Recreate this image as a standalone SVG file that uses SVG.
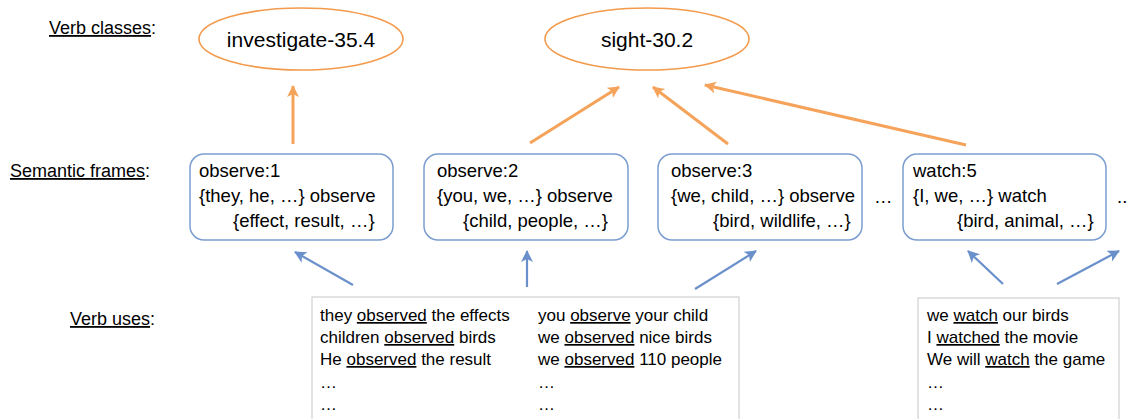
<svg xmlns="http://www.w3.org/2000/svg" width="1129" height="419" viewBox="0 0 1129 419">
<style>
  text { font-family: "Liberation Sans", Arial, sans-serif; fill: #000; }
  .lbl { font-size: 18px; }
  .cls { font-size: 21px; }
  .fr { font-size: 18.5px; }
  .use { font-size: 17px; }
  .u { text-decoration: underline; }
  .ell { fill: #fff; stroke: #F39A4C; stroke-width: 1.6; }
  .frame { fill: #fff; stroke: #7B9DD0; stroke-width: 1.5; }
  .usebox { fill: #fff; stroke: #C8C8C8; stroke-width: 1; }
  .oa { stroke: #F5A35A; stroke-width: 3; fill: none; marker-end: url(#ho); }
  .ba { stroke: #6A90CB; stroke-width: 2.2; fill: none; marker-end: url(#hb); }
</style>
<defs>
  <marker id="ho" markerUnits="userSpaceOnUse" markerWidth="14" markerHeight="14" refX="11" refY="6" orient="auto">
    <path d="M0,0 L12,6 L0,12 L3,6 Z" fill="#F5A35A"/>
  </marker>
  <marker id="hb" markerUnits="userSpaceOnUse" markerWidth="14" markerHeight="14" refX="11" refY="6" orient="auto">
    <path d="M0,0 L12,6 L0,12 L3,6 Z" fill="#6A90CB"/>
  </marker>
</defs>

<g id="row-labels">
  <text class="lbl" x="49" y="34"><tspan class="u">Verb classes</tspan>:</text>
  <text class="lbl" x="10" y="177"><tspan class="u">Semantic frames</tspan>:</text>
  <text class="lbl" x="70" y="325"><tspan class="u">Verb uses</tspan>:</text>
</g>

<g id="connectors">
  <line class="oa" x1="293" y1="144" x2="293" y2="86"/>
  <line class="oa" x1="530" y1="143" x2="619" y2="87"/>
  <line class="oa" x1="728" y1="144" x2="653" y2="87"/>
  <line class="oa" x1="966" y1="145" x2="705" y2="85"/>
  <line class="ba" x1="353" y1="285" x2="295" y2="252"/>
  <line class="ba" x1="527" y1="287" x2="527" y2="251"/>
  <line class="ba" x1="695" y1="289" x2="756" y2="251"/>
  <line class="ba" x1="1003" y1="284" x2="968" y2="251"/>
  <line class="ba" x1="1057" y1="284" x2="1119" y2="251"/>
</g>

<g id="class-investigate">
  <ellipse class="ell" cx="301" cy="39" rx="102" ry="31"/>
  <text class="cls" x="301" y="47" text-anchor="middle">investigate-35.4</text>
</g>
<g id="class-sight">
  <ellipse class="ell" cx="647" cy="39" rx="102" ry="31"/>
  <text class="cls" x="647" y="47" text-anchor="middle">sight-30.2</text>
</g>

<g id="frame-observe1">
  <rect class="frame" x="190" y="154" width="203" height="86" rx="14"/>
  <text class="fr" x="199" y="177">observe:1</text>
  <text class="fr" x="199" y="202">{they, he, …} observe</text>
  <text class="fr" x="233" y="227">{effect, result, …}</text>
</g>
<g id="frame-observe2">
  <rect class="frame" x="424" y="154" width="204" height="86" rx="14"/>
  <text class="fr" x="437" y="177">observe:2</text>
  <text class="fr" x="437" y="202">{you, we, …} observe</text>
  <text class="fr" x="463" y="227">{child, people, …}</text>
</g>
<g id="frame-observe3">
  <rect class="frame" x="658" y="154" width="204" height="86" rx="14"/>
  <text class="fr" x="671" y="177">observe:3</text>
  <text class="fr" x="671" y="202">{we, child, …} observe</text>
  <text class="fr" x="713" y="227">{bird, wildlife, …}</text>
</g>
<g id="ellipsis-mid">
  <text class="fr" x="874" y="203">…</text>
</g>
<g id="frame-watch5">
  <rect class="frame" x="903" y="154" width="203" height="86" rx="14"/>
  <text class="fr" x="913" y="177">watch:5</text>
  <text class="fr" x="913" y="202">{I, we, …} watch</text>
  <text class="fr" x="957" y="227">{bird, animal, …}</text>
</g>
<g id="ellipsis-right">
  <text class="fr" x="1117" y="203">..</text>
</g>

<g id="uses-observe">
  <rect class="usebox" x="312" y="297" width="427" height="130"/>
  <text class="use" x="320" y="321">they <tspan class="u">observed</tspan> the effects</text>
  <text class="use" x="320" y="343">children <tspan class="u">observed</tspan> birds</text>
  <text class="use" x="320" y="365">He <tspan class="u">observed</tspan> the result</text>
  <text class="use" x="320" y="388">…</text>
  <text class="use" x="320" y="410">…</text>
  <text class="use" x="538" y="321">you <tspan class="u">observe</tspan> your child</text>
  <text class="use" x="538" y="343">we <tspan class="u">observed</tspan> nice birds</text>
  <text class="use" x="538" y="365">we <tspan class="u">observed</tspan> 110 people</text>
  <text class="use" x="538" y="388">…</text>
  <text class="use" x="538" y="410">…</text>
</g>
<g id="uses-watch">
  <rect class="usebox" x="918" y="298" width="201" height="130"/>
  <text class="use" x="927" y="321">we <tspan class="u">watch</tspan> our birds</text>
  <text class="use" x="927" y="343">I <tspan class="u">watched</tspan> the movie</text>
  <text class="use" x="927" y="365">We will <tspan class="u">watch</tspan> the game</text>
  <text class="use" x="927" y="388">…</text>
  <text class="use" x="927" y="410">…</text>
</g>
</svg>
